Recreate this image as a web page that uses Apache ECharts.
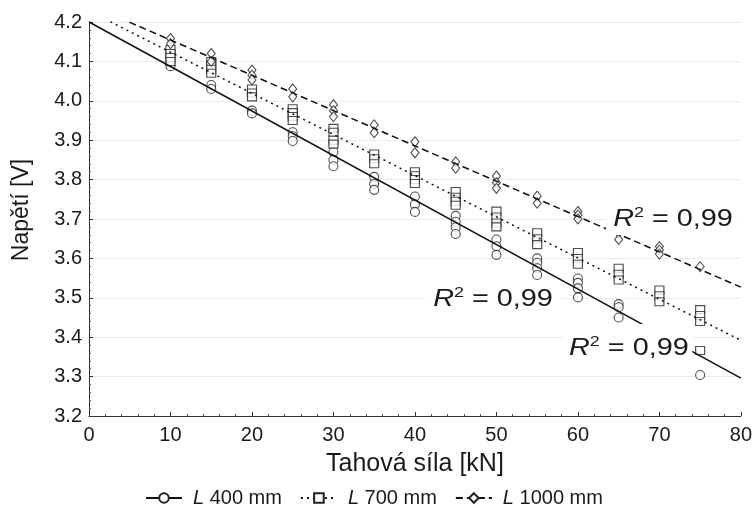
<!DOCTYPE html>
<html>
<head>
<meta charset="utf-8">
<script src="https://cdn.jsdelivr.net/npm/echarts@6/dist/echarts.min.js"></script>
<style>
html,body{margin:0;padding:0;background:#fff;}
#chart{width:755px;height:508px;}
</style>
</head>
<body>
<div id="chart"></div>
<script>
// ---- Data ----
const forces = [10, 15, 20, 25, 30, 35, 40, 45, 50, 55, 60, 65, 70, 75];

// L 400 mm (circles), one list of measured voltages per force
const vals400 = [
  [4.097, 4.088], [4.04, 4.03], [3.975, 3.968], [3.92, 3.91, 3.898],
  [3.87, 3.85, 3.834], [3.807, 3.789, 3.774], [3.757, 3.737, 3.718],
  [3.708, 3.693, 3.679, 3.662], [3.648, 3.631, 3.609], [3.60, 3.589, 3.575, 3.558],
  [3.549, 3.538, 3.524, 3.501], [3.484, 3.476, 3.45], [], [3.304]
];
// L 700 mm (squares)
const vals700 = [
  [4.13, 4.12, 4.11, 4.10], [4.10, 4.09, 4.08, 4.07], [4.03, 4.02, 4.01],
  [3.98, 3.97, 3.96, 3.95], [3.93, 3.92, 3.90, 3.89], [3.865, 3.853, 3.84],
  [3.82, 3.81, 3.80, 3.79], [3.77, 3.755, 3.745, 3.735], [3.72, 3.705, 3.69, 3.68],
  [3.665, 3.65, 3.635], [3.615, 3.60, 3.585], [3.575, 3.56, 3.545],
  [3.52, 3.505, 3.49], [3.47, 3.455, 3.44, 3.366]
];
// L 1000 mm (diamonds)
const vals1000 = [
  [4.158, 4.145], [4.12, 4.10], [4.078, 4.065, 4.053], [4.03, 4.01],
  [3.99, 3.975, 3.96], [3.939, 3.919], [3.896, 3.868], [3.845, 3.829],
  [3.809, 3.792, 3.778], [3.758, 3.74], [3.719, 3.71, 3.70], [3.665, 3.648],
  [3.63, 3.621, 3.611], [3.579]
];

// Linear trend lines (end points)
const trend400 = [[0, 4.2], [80, 3.296]];
const trend700 = [[0, 4.228], [80, 3.392]];
const trend1000 = [[0, 4.244], [80, 3.527]];

const seriesNames = ['L400', 'L700', 'L1000'];
const legendLabels = { L400: '400 mm', L700: '700 mm', L1000: '1000 mm' };
const xTicks = [0, 10, 20, 30, 40, 50, 60, 70, 80];
const r2Text = '0,99';

// ---- Build ----
function pairs(vals) {
  const out = [];
  vals.forEach((list, i) => list.forEach(v => out.push([forces[i], v])));
  return out;
}

const FONT = 'Liberation Sans';
const INK = '#1a1a1a';
const symStyle = { color: '#ffffff', borderColor: '#222', borderWidth: 1.1 };

function lineSeries(name, data, type, symbol) {
  return {
    name: name, type: 'line', data: data, z: 4,
    symbol: symbol, symbolSize: 7, showSymbol: false,
    itemStyle: symStyle,
    lineStyle: { color: '#111', width: 1.5, type: type },
    silent: true, clip: true
  };
}
function scatterSeries(name, data, symbol, size) {
  return {
    name: name, type: 'scatter', data: data, z: 3,
    symbol: symbol, symbolSize: size, itemStyle: symStyle, silent: true
  };
}

function r2Label(left, cy, pad) {
  return {
    type: 'text', left: left, top: cy - 17, z: 100,
    scaleX: 1.2, originX: 0,
    style: {
      text: '{i|R}{s|2}{n| = ' + r2Text + '}',
      backgroundColor: '#fff',
      padding: pad,
      rich: {
        i: { fontFamily: FONT, fontSize: 24, fontStyle: 'italic', fill: INK, lineHeight: 28 },
        s: { fontFamily: FONT, fontSize: 15, fill: INK, verticalAlign: 'top', lineHeight: 14, padding: [0, 0, 12, 0] },
        n: { fontFamily: FONT, fontSize: 24, fill: INK, lineHeight: 28 }
      }
    }
  };
}

const chart = echarts.init(document.getElementById('chart'), null, { renderer: 'canvas' });
chart.setOption({
  animation: false,
  backgroundColor: '#fff',
  grid: { left: 89, right: 14, top: 22, bottom: 92 },
  xAxis: {
    type: 'value', min: 0, max: 80, interval: 10,
    name: 'Tahová síla [kN]', nameLocation: 'middle', nameGap: 36,
    nameTextStyle: { fontFamily: FONT, fontSize: 25, color: INK },
    axisLine: { show: true, lineStyle: { color: '#333', width: 1 } },
    axisTick: { show: true, inside: true, length: 4, lineStyle: { color: '#333' } },
    minorTick: { show: true, splitNumber: 5, length: 2, lineStyle: { color: '#555' } },
    splitLine: { show: false },
    axisLabel: { fontFamily: FONT, fontSize: 20, color: INK, margin: 9,
      formatter: v => (xTicks.indexOf(v) >= 0 ? String(v) : '') }
  },
  yAxis: {
    type: 'value', min: 3.2, max: 4.2, interval: 0.1,
    name: 'Napětí [V]', nameLocation: 'middle', nameGap: 56, nameRotate: 90,
    nameTextStyle: { fontFamily: FONT, fontSize: 23, color: INK, padding: [0, 0, 0, 18] },
    axisLine: { show: true, lineStyle: { color: '#333', width: 1 } },
    axisTick: { show: true, inside: true, length: 4, lineStyle: { color: '#333' } },
    minorTick: { show: true, splitNumber: 5, length: 2, lineStyle: { color: '#555' } },
    splitLine: { show: true, lineStyle: { color: '#ececec', width: 1 } },
    axisLabel: { fontFamily: FONT, fontSize: 20, color: INK, margin: 7,
      formatter: v => v.toFixed(1) }
  },
  legend: {
    data: seriesNames,
    left: 140, top: 483,
    itemWidth: 36, itemHeight: 12, itemGap: 18,
    formatter: n => '{i|L} {t|' + legendLabels[n] + '}',
    textStyle: {
      fontFamily: FONT, fontSize: 20, color: INK, padding: [0, 0, 0, 6],
      rich: {
        i: { fontFamily: FONT, fontSize: 20, fontStyle: 'italic', color: INK },
        t: { fontFamily: FONT, fontSize: 20, color: INK }
      }
    }
  },
  series: [
    lineSeries('L400', trend400, 'solid', 'circle'),
    lineSeries('L700', trend700, [2, 4], 'rect'),
    lineSeries('L1000', trend1000, [7, 4], 'diamond'),
    scatterSeries('L400', pairs(vals400), 'circle', 9),
    scatterSeries('L700', pairs(vals700), 'rect', [9, 8]),
    scatterSeries('L1000', pairs(vals1000), 'diamond', [8, 10])
  ],
  graphic: [
    r2Label(606, 218, [4, 6, 2, 6]),
    r2Label(426, 298, [4, 6, 4, 6]),
    r2Label(563, 341, [10, 3, 8, 5])
  ]
});
</script>
</body>
</html>
